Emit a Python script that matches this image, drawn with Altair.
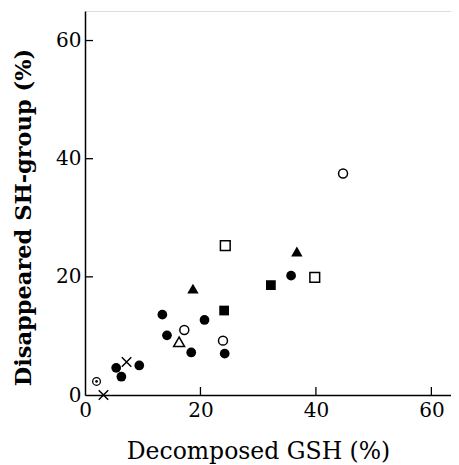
import altair as alt
import pandas as pd

# ---- data ----
groups = ["fc", "fc", "fc", "fc", "fc", "fc", "fc", "fc", "fc",
          "oc", "oc", "oc",
          "os", "os",
          "fs", "fs",
          "ft", "ft",
          "ot",
          "x", "x",
          "cd"]
xs = [35.7, 13.4, 20.7, 14.2, 18.4, 24.2, 9.4, 5.4, 6.3,
      44.7, 17.2, 23.9,
      24.3, 39.8,
      32.2, 24.1,
      36.7, 18.7,
      16.3,
      3.2, 7.2,
      2.0]
ys = [20.2, 13.6, 12.7, 10.1, 7.2, 7.0, 5.0, 4.6, 3.1,
      37.5, 11.0, 9.2,
      25.3, 19.9,
      18.6, 14.3,
      24.3, 18.0,
      9.0,
      0.0, 5.6,
      2.3]
tick_values = [0, 20, 40, 60]
inner_ticks = [20, 40, 60]

df = pd.DataFrame({"g": groups, "x": xs, "y": ys})
ticks = pd.DataFrame({"v": inner_ticks})

W, H = 366, 384
FONT = "DejaVu Serif"

xscale = alt.Scale(domain=[0, 63.4], nice=False, zero=False)
yscale = alt.Scale(domain=[0, 65], nice=False, zero=False)

xaxis = alt.Axis(values=tick_values, grid=False, ticks=False, domainColor="black",
                 domainWidth=1.5, labelFont=FONT, labelFontSize=20, labelColor="black",
                 labelPadding=5, title="Decomposed GSH (%)", titleFont=FONT,
                 titleFontSize=23.5, titleFontWeight="normal", titleColor="black",
                 titleX=173, titleY=63, titleBaseline="alphabetic", titleAlign="center",
                 labelFlush=False)
yaxis = alt.Axis(values=tick_values, grid=False, ticks=False, domainColor="black",
                 domainWidth=1.5, labelFont=FONT, labelFontSize=20, labelColor="black",
                 labelPadding=4, title="Disappeared SH-group (%)", titleFont=FONT,
                 titleFontSize=22.5, titleFontWeight="bold", titleColor="black",
                 titleX=-62, titleY=206, titleBaseline="middle", titleAlign="center",
                 titleAngle=270, labelFlush=False)

base = alt.Chart(df)
X = alt.X("x:Q", scale=xscale, axis=xaxis)
Y = alt.Y("y:Q", scale=yscale, axis=yaxis)


def layer(code, shape, filled, size, sw=1.5):
    return base.transform_filter(alt.datum.g == code).mark_point(
        shape=shape, filled=filled, size=size, color="black",
        strokeWidth=sw, opacity=1
    ).encode(x=alt.X("x:Q", scale=xscale), y=alt.Y("y:Q", scale=yscale))


axes_layer = base.mark_point(opacity=0).encode(x=X, y=Y)

cross_path = "M-1,-1L1,1M-1,1L1,-1"

layers = [
    axes_layer,
    layer("fc", "circle", True, 95),
    layer("oc", "circle", False, 80),
    layer("os", "square", False, 95),
    layer("fs", "square", True, 95),
    layer("ft", "triangle-up", True, 130),
    layer("ot", "triangle-up", False, 120),
    layer("x", cross_path, False, 90),
    layer("cd", "circle", False, 60, 1.3),
    layer("cd", "circle", True, 7),
]

xt = alt.Chart(ticks).mark_rule(color="black", strokeWidth=1.3).encode(
    x=alt.X("v:Q", scale=xscale), y=alt.value(H), y2=alt.value(H - 8))
yt = alt.Chart(ticks).mark_rule(color="black", strokeWidth=1.3).encode(
    y=alt.Y("v:Q", scale=yscale), x=alt.value(0), x2=alt.value(8))

chart = alt.layer(*layers, xt, yt).properties(
    width=W, height=H,
    autosize=alt.AutoSizeParams(type="none"),
    padding={"left": 77, "top": 3, "right": 0, "bottom": 70},
).configure_view(stroke=None).configure(background="white")

chart.save("out.html", embed_options={"renderer": "svg", "actions": False})
